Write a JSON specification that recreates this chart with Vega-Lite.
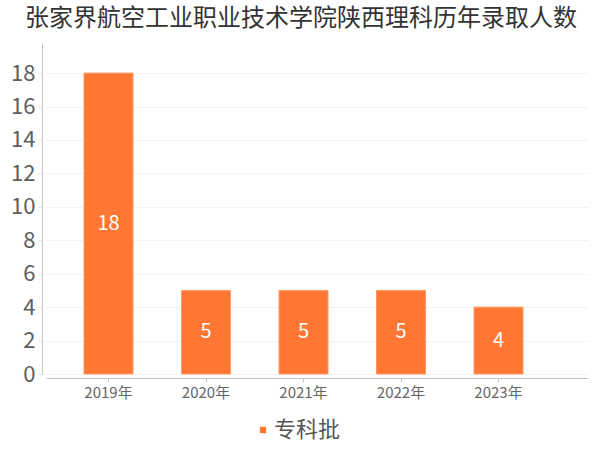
{
  "$schema": "https://vega.github.io/schema/vega-lite/v6.json",
  "autosize": "none",
  "width": 542,
  "height": 331,
  "padding": {"left": 46, "top": 43, "right": 12, "bottom": 76},
  "background": "white",
  "title": {
    "text": "张家界航空工业职业技术学院陕西理科历年录取人数",
    "anchor": "start",
    "frame": "group",
    "dx": -21,
    "dy": 24,
    "offset": 17,
    "baseline": "alphabetic",
    "font": "Noto Sans CJK SC",
    "fontSize": 24,
    "fontWeight": "normal",
    "color": "#333333"
  },
  "config": {
    "view": {"stroke": null},
    "font": "Noto Sans CJK SC"
  },
  "data": {
    "values": [
      {"year": "2019年", "value": 18, "batch": "专科批"},
      {"year": "2020年", "value": 5, "batch": "专科批"},
      {"year": "2021年", "value": 5, "batch": "专科批"},
      {"year": "2022年", "value": 5, "batch": "专科批"},
      {"year": "2023年", "value": 4, "batch": "专科批"}
    ]
  },
  "encoding": {
    "x": {
      "field": "year",
      "type": "nominal",
      "sort": null,
      "scale": {"paddingInner": 0.4974, "paddingOuter": 0.528, "align": 0.369},
      "axis": {
        "title": null,
        "labelAngle": 0,
        "offset": 4,
        "domainColor": "#c4c4c4",
        "tickColor": "#c4c4c4",
        "tickSize": 4,
        "labelPadding": 3,
        "labelFont": "Noto Sans CJK SC",
        "labelFontSize": 15,
        "labelColor": "#666666",
        "grid": false
      }
    }
  },
  "layer": [
    {
      "mark": {"type": "bar", "stroke": "#ff9a66", "strokeWidth": 1},
      "encoding": {
        "y": {
          "field": "value",
          "type": "quantitative",
          "scale": {"domain": [0, 19.8], "nice": false},
          "axis": {
            "title": null,
            "values": [0, 2, 4, 6, 8, 10, 12, 14, 16, 18],
            "offset": 4,
            "domainColor": "#c4c4c4",
            "tickColor": "#e8e8e8",
            "tickSize": 4,
            "labelPadding": 3,
            "labelFont": "Noto Sans CJK SC",
            "labelFontSize": 22,
            "labelColor": "#5e5e5e",
            "gridColor": "#f3f3f3"
          }
        },
        "color": {
          "field": "batch",
          "type": "nominal",
          "scale": {"range": ["#ff7733"]},
          "legend": {
            "title": null,
            "orient": "none",
            "legendX": 206,
            "legendY": 376,
            "symbolType": "square",
            "symbolSize": 40,
            "symbolStrokeWidth": 0,
            "labelFont": "Noto Sans CJK SC",
            "labelFontSize": 22,
            "labelColor": "#555555",
            "labelOffset": 0,
            "padding": 0
          }
        }
      }
    },
    {
      "mark": {"type": "text", "color": "white", "font": "Noto Sans CJK SC", "fontSize": 20, "baseline": "middle", "align": "center"},
      "encoding": {
        "y": {
          "field": "value",
          "type": "quantitative",
          "scale": {"domain": [0, 39.6], "nice": false},
          "axis": null
        },
        "text": {"field": "value", "type": "quantitative"}
      }
    }
  ],
  "resolve": {"scale": {"y": "independent"}}
}
